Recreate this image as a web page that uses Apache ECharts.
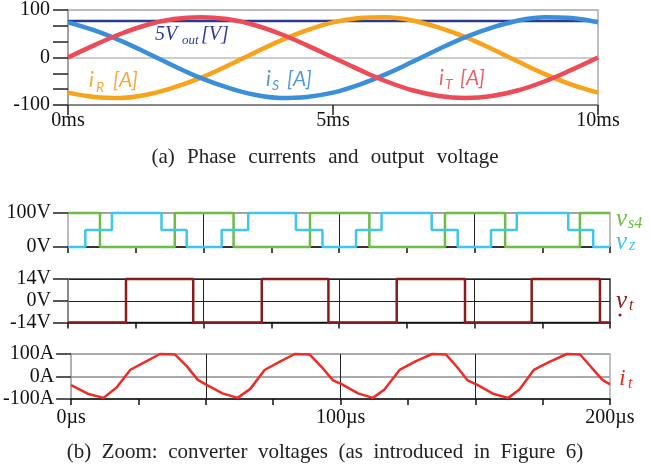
<!DOCTYPE html>
<html><head><meta charset="utf-8">
<script src="https://cdn.jsdelivr.net/npm/echarts@6/dist/echarts.min.js"></script>
<style>html,body{margin:0;padding:0;background:#fff}#c{width:650px;height:473px}</style>
</head><body><div id="c"></div>
<script>
// ---- (a) phase currents and output voltage, time in ms ----
const timeMs = [0,0.5,1,1.5,2,2.5,3,3.5,4,4.5,5,5.5,6,6.5,7,7.5,8,8.5,9,9.5,10];
const iR = [-74,-83,-85,-78,-63,-43,-18,9,35,57,74,83,85,78,63,43,18,-9,-35,-57,-74];
const iS = [74,57,35,9,-18,-43,-63,-78,-85,-83,-74,-57,-35,-9,18,43,63,78,85,83,74];
const iT = [0,26,50,69,81,85,81,69,50,26,0,-26,-50,-69,-81,-85,-81,-69,-50,-26,0];
const voutTime = [0,10];
const vout5 = [77,77];
const topXTicks = ['0ms','5ms','10ms'];

// ---- (b) zoom, time in µs ----
const vs4Time = [0,11.8,39.4,61.1,89.3,111.2,139.1,161.3,188.9,200];
const vs4Val  = [100,0,100,0,100,0,100,0,100,100];
const vzTime = [0,6.4,16.2,34.5,43.8,56.7,66.5,84.1,93.9,106.3,115.7,134.2,143.8,156.1,165.6,184.6,193.8,200];
const vzVal  = [0,50,100,50,0,50,100,50,0,50,100,50,0,50,100,50,0,0];
const vtTime = [0,21.4,46.2,71.5,96.1,121.3,146.5,171.1,196.3,200];
const vtVal  = [-14,14,-14,14,-14,14,-14,14,-14,-14];
const itTime = [0,6.5,12,16.8,22,27.5,33,38.5,43,47,
                50.3,56.2,61.8,66.5,71.8,77.5,83,88.5,93,97.2,
                100.4,106.5,112,116.3,121.9,128,134,139.1,143.4,147.1,
                150.8,156.9,162.2,166.4,171.7,177.9,184,188.9,193,197.2,200];
const itVal  = [-38,-78,-95,-50,30,65,100,98,45,-15,
                -37,-75,-95,-55,29,66,100,98,42,-17,
                -34,-75,-95,-58,29,68,100,98,40,-17,
                -37,-78,-95,-58,29,67,100,98,42,-15,-35];

const zip = (a,b) => a.map((v,i)=>[v,b[i]]);
const SERIF = 'Liberation Serif';
const SANS = 'Lato';

const chart = echarts.init(document.getElementById('c'), null, {renderer:'canvas'});

const yLab = (suffix, margin) => ({fontFamily:SERIF, fontSize:20, color:'#111', margin, formatter: v => v + suffix});
const bottomX = (gi, showLabels, lineColor) => ({
  gridIndex: gi, type:'value', min:0, max:200, interval:50,
  axisLine:{show:true, onZero:false, lineStyle:{color:'#111', width:1.5}},
  axisTick:{show:true, length:6, lineStyle:{color:'#111', width:1.5}},
  minorTick:{show:true, splitNumber:2, length:6, lineStyle:{color:'#111', width:1.5}},
  axisLabel:{show:showLabels, fontFamily:SERIF, fontSize:20, color:'#111', margin:9,
    formatter: v => (v % 100 === 0 ? v + 'µs' : '')},
  splitLine:{show:true, showMinLine:false, showMaxLine:false, lineStyle:{color:lineColor, width:1}}
});
const yTick = {show:true, length:15, lineStyle:{color:'#222', width:1.5}};

const option = {
  animation:false,
  backgroundColor:'#fff',
  grid:[
    {left:68, top:10, width:530, height:95, show:true, borderColor:'#aaa', borderWidth:1.5},
    {left:68, top:213, width:542, height:34, show:true, borderColor:'#aaa', borderWidth:1.5},
    {left:68, top:279, width:542, height:43.5, show:true, borderColor:'#333', borderWidth:1.5},
    {left:68, top:354, width:542, height:45, show:true, borderColor:'#aaa', borderWidth:1.5}
  ],
  xAxis:[
    {gridIndex:0, type:'value', min:0, max:10, interval:5,
      axisLine:{show:true, onZero:false, lineStyle:{color:'#777', width:1.5}},
      axisTick:{show:true, length:10, lineStyle:{color:'#222', width:1.5}},
      axisLabel:{fontFamily:SERIF, fontSize:20, color:'#111', margin:6,
        formatter: v => topXTicks[Math.round(v/5)]},
      splitLine:{show:false}},
    bottomX(1, false, '#222'),
    bottomX(2, false, '#222'),
    bottomX(3, true, '#222')
  ],
  yAxis:[
    {gridIndex:0, type:'value', min:-100, max:100, interval:100,
      axisLine:{show:true, onZero:false, lineStyle:{color:'#999', width:1.5}},
      axisTick:yTick,
      minorTick:{show:true, splitNumber:3, length:15, lineStyle:{color:'#222', width:1.5}},
      axisLabel:yLab('', 18),
      splitLine:{show:true, lineStyle:{color:'#bbb', width:1.5}}},
    {gridIndex:1, type:'value', min:0, max:100, interval:100,
      axisLine:{show:true, onZero:false, lineStyle:{color:'#bbb', width:1.5}},
      axisTick:yTick, axisLabel:yLab('V', 17),
      splitLine:{show:true, lineStyle:{color:'#999', width:1.5}}},
    {gridIndex:2, type:'value', min:-14, max:14, interval:14,
      axisLine:{show:true, onZero:false, lineStyle:{color:'#999', width:1.5}},
      axisTick:yTick, axisLabel:yLab('V', 17),
      splitLine:{show:true, lineStyle:{color:'#222', width:1.2}}},
    {gridIndex:3, type:'value', min:-100, max:100, interval:100,
      axisLine:{show:true, onZero:false, lineStyle:{color:'#aaa', width:1.5}},
      axisTick:yTick, axisLabel:yLab('A', 17),
      splitLine:{show:true, lineStyle:{color:'#aaa', width:2}}}
  ],
  series:[
    {name:'5Vout', type:'line', xAxisIndex:0, yAxisIndex:0, data:zip(voutTime, vout5),
      symbol:'none', lineStyle:{color:'#2b3990', width:2.5}},
    {name:'iR', type:'line', xAxisIndex:0, yAxisIndex:0, data:zip(timeMs, iR), smooth:0.4,
      symbol:'none', lineStyle:{color:'#f8a31c', width:4.5}},
    {name:'iS', type:'line', xAxisIndex:0, yAxisIndex:0, data:zip(timeMs, iS), smooth:0.4,
      symbol:'none', lineStyle:{color:'#3b8fd9', width:4.5}},
    {name:'iT', type:'line', xAxisIndex:0, yAxisIndex:0, data:zip(timeMs, iT), smooth:0.4,
      symbol:'none', lineStyle:{color:'#ee4b59', width:4.5}},
    {name:'vs4', type:'line', xAxisIndex:1, yAxisIndex:1, data:zip(vs4Time, vs4Val), step:'end',
      clip:false, symbol:'none', lineStyle:{color:'#6cbd45', width:2.5}},
    {name:'vz', type:'line', xAxisIndex:1, yAxisIndex:1, data:zip(vzTime, vzVal), step:'end',
      clip:false, symbol:'none', lineStyle:{color:'#3ec6f0', width:2.5}},
    {name:'vt', type:'line', xAxisIndex:2, yAxisIndex:2, data:zip(vtTime, vtVal), step:'end',
      clip:false, symbol:'none', lineStyle:{color:'#8b1a1a', width:2.5}},
    {name:'it', type:'line', xAxisIndex:3, yAxisIndex:3, data:zip(itTime, itVal),
      clip:false, symbol:'none', lineStyle:{color:'#ee2b27', width:2.5}}
  ],
  graphic: []
};

const T = (text, x, y, size, color, fam, italic, align) => ({
  type:'text', x, y, silent:true, z:100,
  style:{text, fill:color, font:(italic?'italic ':'') + size + 'px "' + fam + '"',
    textAlign: align || 'left', textVerticalAlign:'middle'}
});
const wide = (s, gap) => s.split(' ').join(' ' + gap);
option.graphic = [
  T('5V', 155, 35, 20, '#2e3a96', SERIF, true),
  T('out', 182, 41, 13, '#2e3a96', SERIF, true),
  T('[V]', 201, 35, 20, '#2e3a96', SERIF, true),
  T('i', 89, 80, 21, '#f6a93a', SANS, true),
  T('R', 96, 87, 14, '#f6a93a', SANS, true),
  T('[A]', 113, 80, 21, '#f6a93a', SANS, true),
  T('i', 266, 79, 21, '#5198da', SANS, true),
  T('S', 272, 85, 14, '#5198da', SANS, true),
  T('[A]', 287, 79, 21, '#5198da', SANS, true),
  T('i', 439, 78, 21, '#ea5f6a', SANS, true),
  T('T', 445, 84, 14, '#ea5f6a', SANS, true),
  T('[A]', 460, 78, 21, '#ea5f6a', SANS, true),
  T('v', 616, 219, 25, '#6cbd45', SERIF, true),
  T('s4', 628, 224, 16, '#6cbd45', SERIF, true),
  T('v', 616, 242, 25, '#3ec6f0', SERIF, true),
  T('z', 629, 246, 16, '#3ec6f0', SERIF, true),
  T('v', 616, 301, 25, '#8b1a1a', SERIF, true),
  T('t', 629, 306, 16, '#8b1a1a', SERIF, true),
  {type:'circle', shape:{cx:620, cy:315, r:1.5}, style:{fill:'#8b1a1a'}, silent:true},
  T('i', 619, 379, 24, '#ee2b27', SERIF, true),
  T('t', 628, 384, 16, '#ee2b27', SERIF, true),
  T(wide('(a) Phase currents and output voltage', '\u2004'), 325, 157, 21, '#222', SERIF, false, 'center'),
  T(wide('(b) Zoom: converter voltages (as introduced in Figure 6)', '\u2005'), 325, 452, 21, '#222', SERIF, false, 'center')
];
chart.setOption(option);
</script></body></html>
